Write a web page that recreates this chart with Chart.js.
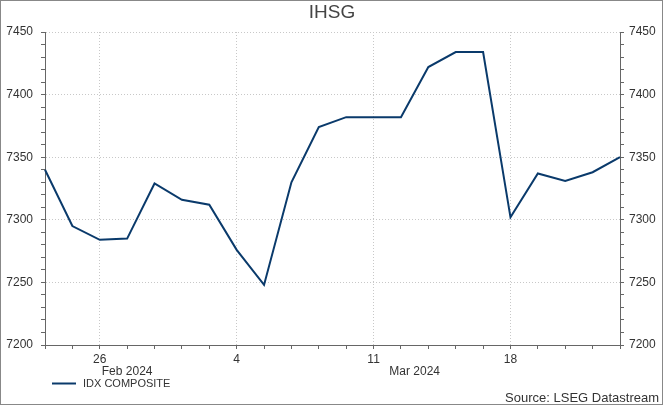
<!DOCTYPE html>
<html>
<head>
<meta charset="utf-8">
<script src="https://cdn.jsdelivr.net/npm/chart.js@4"></script>
<style>
  html, body { margin: 0; padding: 0; background: #fff; }
  #wrap { width: 664px; height: 406px; }
</style>
</head>
<body>
<div id="wrap"><canvas id="c" width="664" height="406"></canvas></div>
<script>
const dates = ['2024-02-22','2024-02-23','2024-02-26','2024-02-27','2024-02-28','2024-02-29','2024-03-01',
  '2024-03-04','2024-03-05','2024-03-06','2024-03-07','2024-03-08','2024-03-11','2024-03-12','2024-03-13',
  '2024-03-14','2024-03-15','2024-03-18','2024-03-19','2024-03-20','2024-03-21','2024-03-22'];
const idxComposite = [7340, 7295, 7284, 7285, 7329, 7316, 7312, 7276, 7248, 7330, 7374, 7382, 7382, 7382,
  7422, 7434, 7434, 7302, 7337, 7331, 7338, 7350];
const xTickLabels = {'2024-02-26': '26', '2024-03-04': '4', '2024-03-11': '11', '2024-03-18': '18'};
const monthLabels = [{text: 'Feb 2024', at: 3}, {text: 'Mar 2024', at: 13.5}];
const yMin = 7200, yMax = 7450, yMajor = 50, yMinor = 10;
const titleText = 'IHSG';
const seriesName = 'IDX COMPOSITE';
const sourceText = 'Source: LSEG Datastream';

const FONT = "'Liberation Sans', Arial, sans-serif";
const LINE = '#0a3a6b';
const TXT = '#333333';

const extras = {
  id: 'extras',
  beforeDraw(chart) {
    const c = chart.ctx;
    c.save();
    c.fillStyle = '#fff';
    c.fillRect(0, 0, chart.width, chart.height);
    c.restore();
  },
  afterDraw(chart) {
    const c = chart.ctx;
    const xs = chart.scales.x;
    c.save();
    c.fillStyle = '#444';
    c.font = '19px ' + FONT;
    c.textAlign = 'center';
    c.textBaseline = 'middle';
    c.fillText(titleText, 332, 13);
    c.fillStyle = TXT;
    c.font = '12px ' + FONT;
    monthLabels.forEach(m => c.fillText(m.text, xs.getPixelForValue(m.at), 372));
    // legend
    c.strokeStyle = LINE;
    c.lineWidth = 2;
    c.beginPath();
    c.moveTo(52, 383.5);
    c.lineTo(76, 383.5);
    c.stroke();
    c.font = '11px ' + FONT;
    c.textAlign = 'left';
    c.fillText(seriesName, 83, 384);
    c.font = '13px ' + FONT;
    c.textAlign = 'right';
    c.fillText(sourceText, 659, 398);
    // frame
    c.strokeStyle = '#888';
    c.lineWidth = 1;
    c.strokeRect(0.5, 0.5, 662, 404);
    c.restore();
  }
};

function yAxis(pos) {
  return {
    position: pos,
    min: yMin, max: yMax,
    afterFit(s) { s.width = pos === 'left' ? 45 : 44; },
    ticks: {
      stepSize: yMinor, autoSkip: false,
      color: TXT, font: {family: FONT, size: 12},
      padding: pos === 'left' ? 8 : 5,
      callback: v => (v % yMajor === 0 ? String(v) : '')
    },
    grid: {
      drawOnChartArea: pos === 'left',
      color: ctx => (ctx.tick && ctx.tick.value % yMajor === 0 ? '#c8c8c8' : 'rgba(0,0,0,0)'),
      lineWidth: 1,
      tickColor: '#666', tickLength: 4, tickWidth: 1
    },
    border: {display: true, color: '#666', width: 1, dash: [1, 2]}
  };
}

new Chart(document.getElementById('c'), {
  type: 'line',
  data: {
    labels: dates,
    datasets: [{
      label: seriesName,
      data: idxComposite,
      borderColor: LINE,
      borderWidth: 2,
      pointRadius: 0,
      tension: 0,
      fill: false
    }]
  },
  options: {
    responsive: false,
    animation: false,
    devicePixelRatio: 1,
    layout: {padding: {top: 32, left: 0, right: 0, bottom: 0}},
    plugins: {legend: {display: false}, title: {display: false}, tooltip: {enabled: false}},
    scales: {
      x: {
        offset: false,
        afterFit(s) { s.height = 61; },
        ticks: {
          autoSkip: false, maxRotation: 0, minRotation: 0,
          color: TXT, font: {family: FONT, size: 12}, padding: 3,
          callback: function(v, i) { return xTickLabels[dates[i]] || ''; }
        },
        grid: {
          color: ctx => (ctx.tick && xTickLabels[dates[ctx.index]] ? '#c8c8c8' : 'rgba(0,0,0,0)'),
          lineWidth: 1,
          tickColor: '#666', tickLength: 4, tickWidth: 1
        },
        border: {display: true, color: '#666', width: 1, dash: [1, 2]}
      },
      y: yAxis('left'),
      y2: yAxis('right')
    }
  },
  plugins: [extras]
});
</script>
</body>
</html>
